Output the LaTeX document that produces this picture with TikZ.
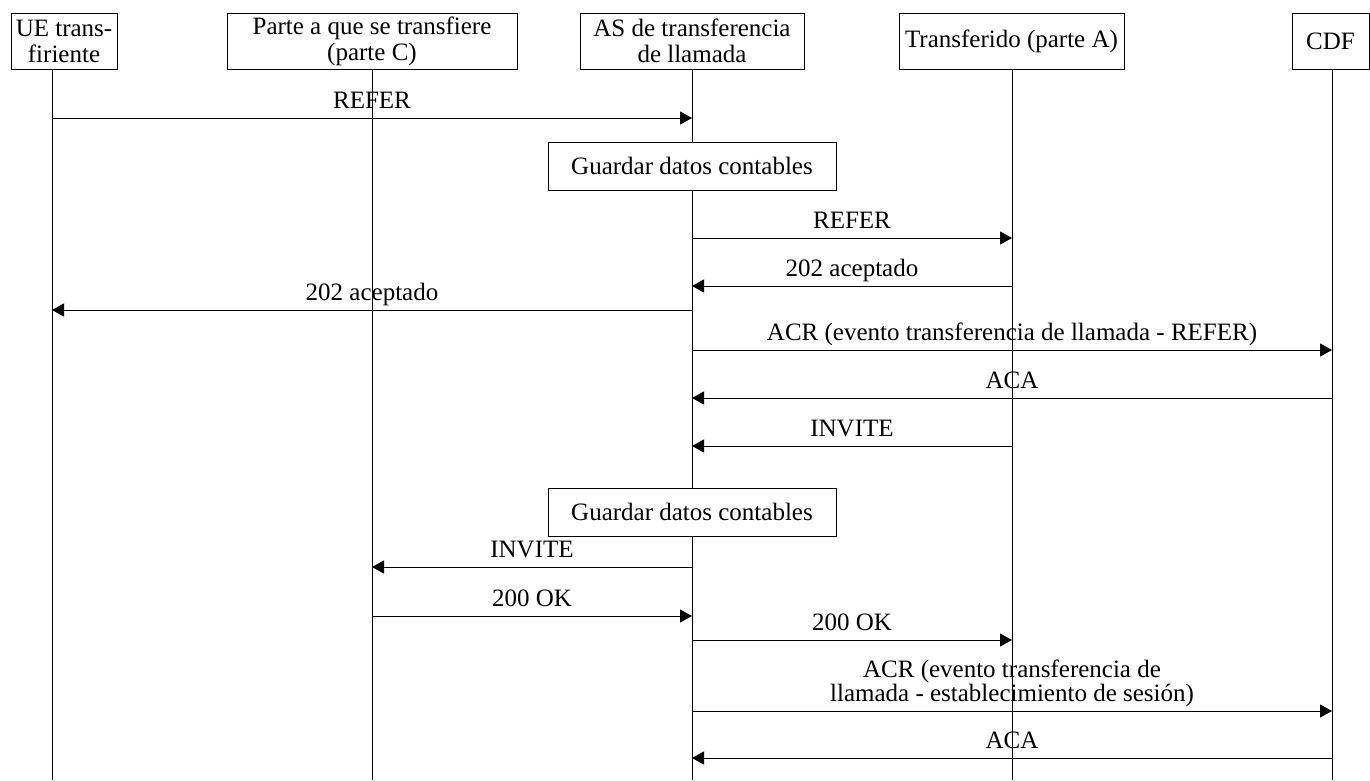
\documentclass[tikz,border=0pt]{standalone}
\usepackage{fontspec}
\setmainfont{Liberation Serif}
\usetikzlibrary{arrows.meta}
\begin{document}
\begin{tikzpicture}[x=1pt,y=-1pt,
  every node/.style={font=\fontsize{25}{26}\selectfont},
  box/.style={draw, fill=white, line width=1pt, inner sep=0pt, align=center},
  life/.style={line width=1pt},
  msg/.style={line width=1pt, -{Triangle[length=12pt,width=13pt]}},
  lbl/.style={anchor=base, inner sep=0pt, yshift=9.5pt},
  lbltwo/.style={anchor=base, inner sep=0pt, yshift=9.5pt, align=center}
]
\useasboundingbox (0,0) rectangle (1370,780);

% participants
\node[box, minimum width=106pt, minimum height=56pt] (h1) at (64,41) {UE trans-\\firiente};
\node[box, minimum width=290pt, minimum height=56pt] (h2) at (372,41) {Parte a que se transfiere\\(parte C)};
\node[box, minimum width=224pt, minimum height=56pt] (h3) at (692,41) {AS de transferencia\\de llamada};
\node[box, minimum width=225pt, minimum height=56pt] (h4) at (1011.5,41) {Transferido (parte A)};
\node[box, minimum width=77pt, minimum height=56pt] (h5) at (1330.5,41) {CDF};

% lifeline tops
\coordinate (L1) at (52,69);
\coordinate (L2) at (372,69);
\coordinate (L3) at (692,69);
\coordinate (L4) at (1012,69);
\coordinate (L5) at (1332,69);

\foreach \l in {L1,L2,L3,L4,L5}
  \draw[life] (\l) -- (\l |- 0,780);

% accounting steps on the AS lifeline
\node[box, minimum width=288pt, minimum height=48pt] (g1) at (692,166) {Guardar datos contables};
\node[box, minimum width=288pt, minimum height=48pt] (g2) at (692,512) {Guardar datos contables};

% messages
\draw[msg] (L1 |- 0,118) -- (L3 |- 0,118) node[lbl, midway] {REFER};
\draw[msg] (L3 |- 0,238) -- (L4 |- 0,238) node[lbl, midway] {REFER};
\draw[msg] (L4 |- 0,286) -- (L3 |- 0,286) node[lbl, midway] {202 aceptado};
\draw[msg] (L3 |- 0,310) -- (L1 |- 0,310) node[lbl, midway] {202 aceptado};
\draw[msg] (L3 |- 0,350) -- (L5 |- 0,350) node[lbl, midway] {ACR (evento transferencia de llamada - REFER)};
\draw[msg] (L5 |- 0,398) -- (L3 |- 0,398) node[lbl, midway] {ACA};
\draw[msg] (L4 |- 0,446) -- (L3 |- 0,446) node[lbl, midway] {INVITE};
\draw[msg] (L3 |- 0,567) -- (L2 |- 0,567) node[lbl, midway] {INVITE};
\draw[msg] (L2 |- 0,616) -- (L3 |- 0,616) node[lbl, midway] {200 OK};
\draw[msg] (L3 |- 0,640) -- (L4 |- 0,640) node[lbl, midway] {200 OK};
\draw[msg] (L3 |- 0,711) -- (L5 |- 0,711) node[lbltwo, midway, font=\fontsize{25}{22}\selectfont] {ACR (evento transferencia de\\llamada - establecimiento de sesión)};
\draw[msg] (L5 |- 0,758) -- (L3 |- 0,758) node[lbl, midway] {ACA};
\end{tikzpicture}
\end{document}
